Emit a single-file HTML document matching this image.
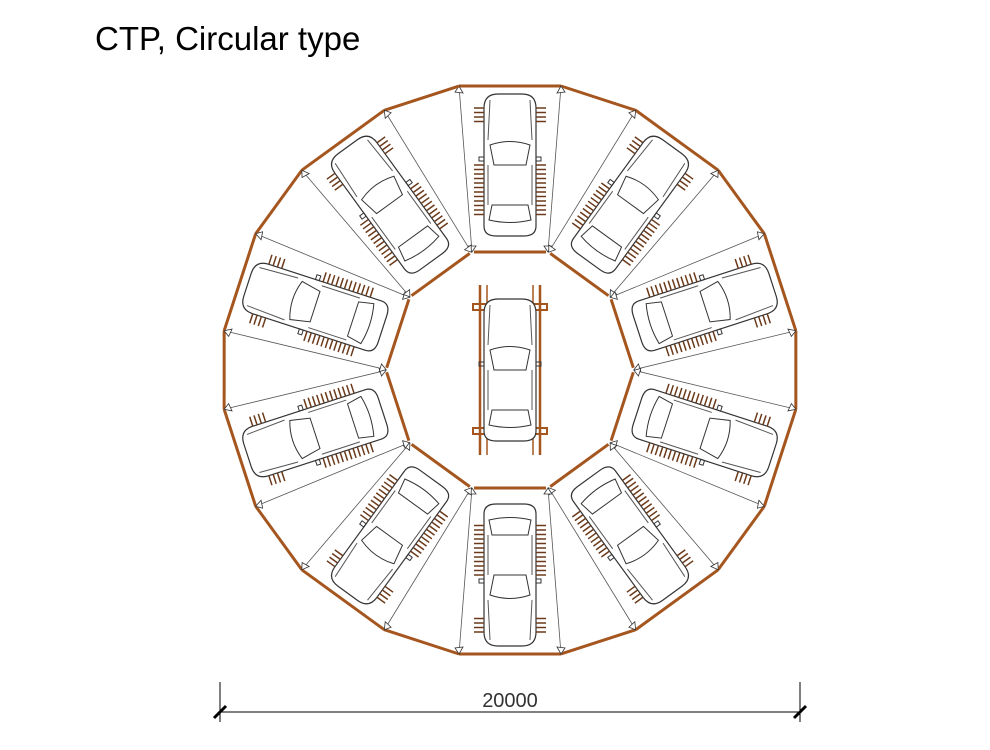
<!DOCTYPE html>
<html><head><meta charset="utf-8"><style>
body{margin:0;background:#fff;width:990px;height:750px;overflow:hidden}
.t{position:absolute;left:95px;top:20px;font:33px "Liberation Sans",sans-serif;color:#000}
svg{position:absolute;left:0;top:0}
</style></head><body>
<div class="t">CTP, Circular type</div>
<svg id="s" width="990" height="750" viewBox="0 0 990 750">
<g id="g" transform="translate(510,370)"></g>
<line x1="220" y1="712" x2="800" y2="712" stroke="#000" stroke-width="1"/>
<line x1="220" y1="682" x2="220" y2="722" stroke="#000"/>
<line x1="800" y1="682" x2="800" y2="722" stroke="#000"/>
<line x1="214" y1="718" x2="226" y2="706" stroke="#000" stroke-width="3"/>
<line x1="794" y1="718" x2="806" y2="706" stroke="#000" stroke-width="3"/>
<text x="510" y="707" text-anchor="middle" font-family="Liberation Sans,sans-serif" font-size="20" fill="#333">20000</text>
</svg>
<script>
var g=document.getElementById('g'),h='';
var OR='#a5561f';
function car(hatch){
 var s='';
 s+='<path d="M-26,-262 Q-26,-276 -12,-276 L12,-276 Q26,-276 26,-262 L26,-144 Q26,-134 14,-134 L-14,-134 Q-26,-134 -26,-144 Z" fill="#fff" stroke="#333" stroke-width="1.2"/>';
 s+='<path d="M-20,-225 Q0,-232 20,-225 L16,-205 L-16,-205 Z" fill="none" stroke="#333"/>';
 s+='<path d="M-18,-165 L18,-165 L21,-150 Q0,-145 -21,-150 Z" fill="none" stroke="#333"/>';
 s+='<path d="M-20,-270 L-22,-230 M20,-270 L22,-230 M-22,-205 L-22,-165 M22,-205 L22,-165" stroke="#555" fill="none"/>';
 s+='<rect x="-31" y="-213" width="5" height="4" fill="none" stroke="#333"/><rect x="26" y="-213" width="5" height="4" fill="none" stroke="#333"/>';
 if(hatch){
 for(var y=-262;y<=-248;y+=4.5){s+='<line x1="-36" y1="'+y+'" x2="-26" y2="'+y+'" stroke="#6b3a1a" stroke-width="1.5"/><line x1="26" y1="'+y+'" x2="36" y2="'+y+'" stroke="#6b3a1a" stroke-width="1.5"/>';}
 for(var y=-205;y<=-155;y+=4.5){s+='<line x1="-36" y1="'+y+'" x2="-26" y2="'+y+'" stroke="#6b3a1a" stroke-width="1.5"/><line x1="26" y1="'+y+'" x2="36" y2="'+y+'" stroke="#6b3a1a" stroke-width="1.5"/>';}
 }
 return s;
}
for(var k=0;k<10;k++){
 var s='<g transform="rotate('+(36*k)+')">';
 s+='<line x1="-38" y1="-118" x2="-51" y2="-284" stroke="#555" stroke-width="0.8"/>';
 s+='<line x1="38" y1="-118" x2="51" y2="-284" stroke="#555" stroke-width="0.8"/>';
 s+='<line x1="-51" y1="-284" x2="51" y2="-284" stroke="'+OR+'" stroke-width="3"/>';
 s+='<line x1="-36" y1="-118" x2="36" y2="-118" stroke="'+OR+'" stroke-width="3"/>';
 var a=36*Math.PI/180,c=Math.cos(a),sn=Math.sin(a);
 var nx=-51*c+284*sn, ny=-51*sn-284*c;
 s+='<line x1="51" y1="-284" x2="'+nx.toFixed(1)+'" y2="'+ny.toFixed(1)+'" stroke="'+OR+'" stroke-width="3"/>';
 s+='<path d="M51,-284 L47,-277 L55,-278 Z M-51,-284 L-47,-277 L-55,-278 Z M-38,-118 L-42,-124 L-34,-124 Z M38,-118 L42,-124 L34,-124 Z" fill="#fff" stroke="#333" stroke-width="0.8"/>';
 s+=car(true);
 s+='</g>';
 h+=s;
}
h+='<line x1="-30" y1="-85" x2="-30" y2="85" stroke="'+OR+'" stroke-width="2.5"/><line x1="-23" y1="-85" x2="-23" y2="85" stroke="'+OR+'" stroke-width="1.5"/>';
h+='<line x1="30" y1="-85" x2="30" y2="85" stroke="'+OR+'" stroke-width="2.5"/><line x1="23" y1="-85" x2="23" y2="85" stroke="'+OR+'" stroke-width="1.5"/>';
h+='<rect x="-37" y="-66" width="74" height="6" fill="none" stroke="'+OR+'" stroke-width="2"/><rect x="-37" y="58" width="74" height="6" fill="none" stroke="'+OR+'" stroke-width="2"/>';
h+='<g transform="translate(0,205)">'+car(false)+'</g>';
g.innerHTML=h;
</script>
</body></html>
